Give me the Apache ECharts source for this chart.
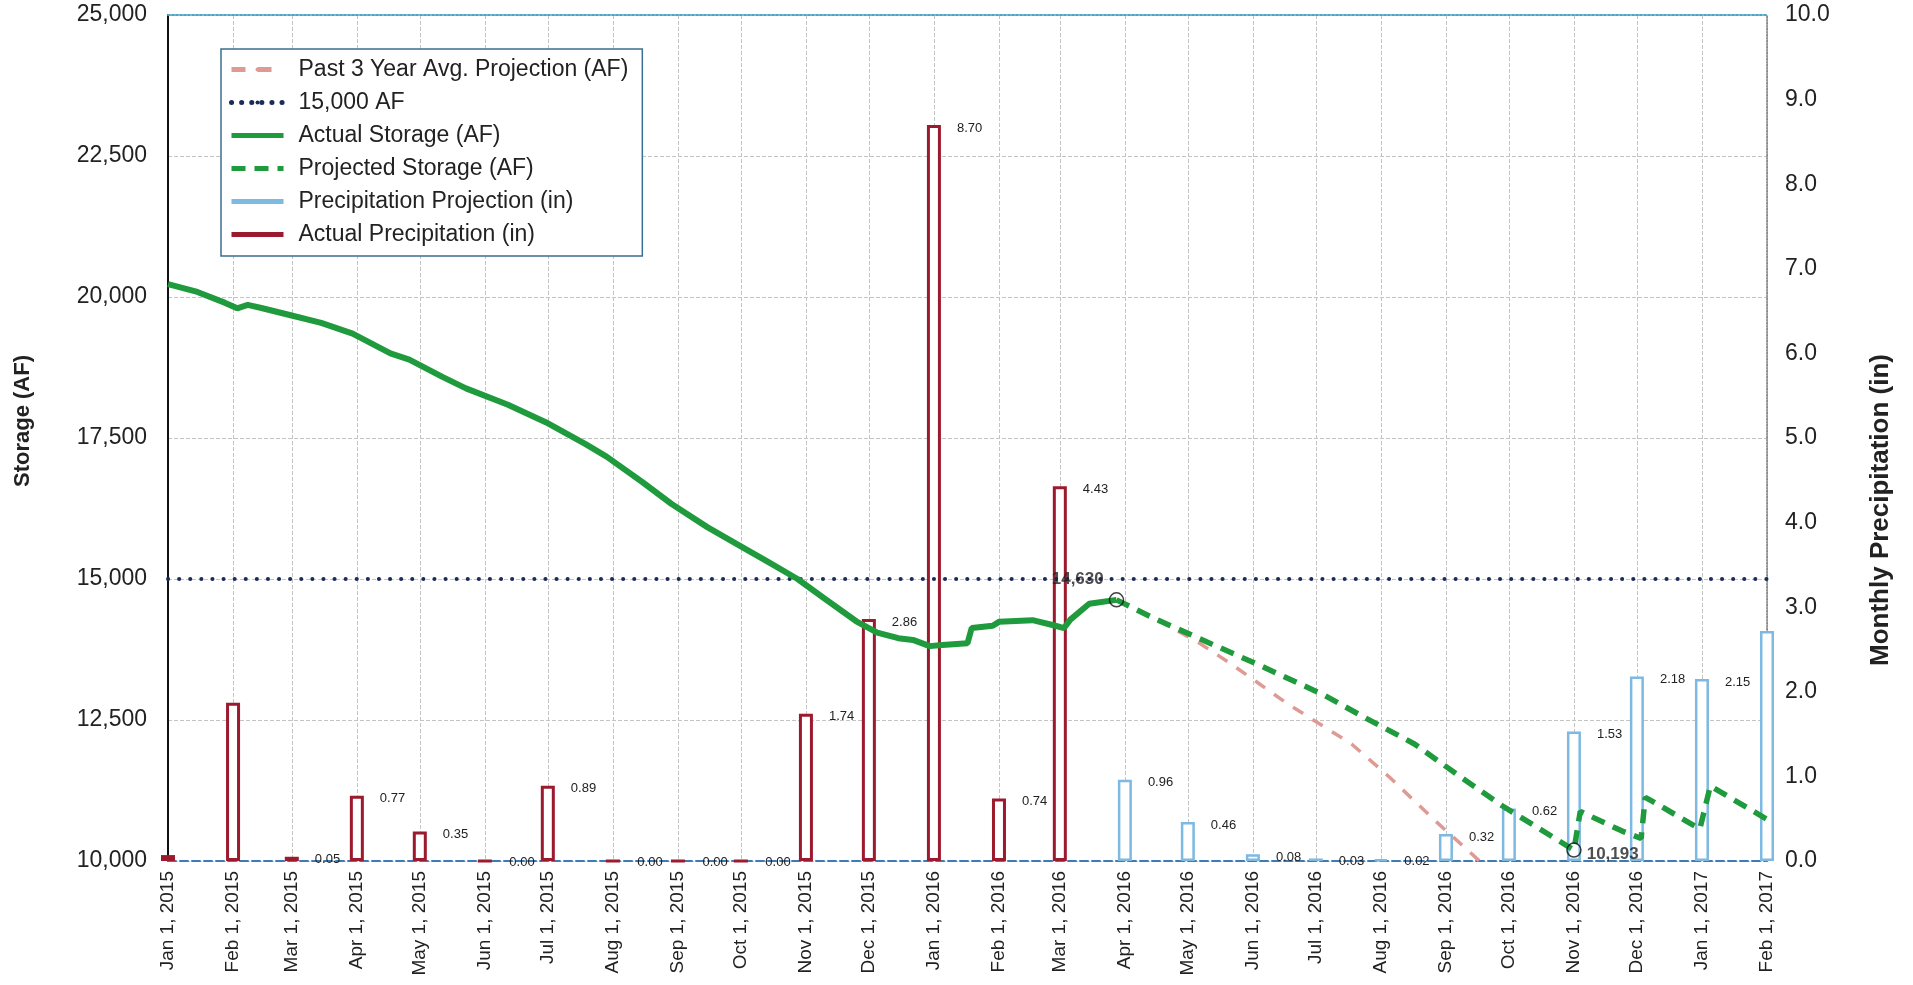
<!DOCTYPE html>
<html><head><meta charset="utf-8">
<script src="https://cdn.jsdelivr.net/npm/echarts@6/dist/echarts.min.js"></script>
<style>html,body{margin:0;padding:0;background:#fff}#c{width:1913px;height:985px}</style>
</head><body><div id="c"></div>
<script>
// ---------------- DATA ----------------
const axisStart = '2015-01-01';
const axisEnd = '2017-02-01';

const monthTicks = ['2015-01-01','2015-02-01','2015-03-01','2015-04-01','2015-05-01','2015-06-01','2015-07-01',
  '2015-08-01','2015-09-01','2015-10-01','2015-11-01','2015-12-01','2016-01-01','2016-02-01','2016-03-01',
  '2016-04-01','2016-05-01','2016-06-01','2016-07-01','2016-08-01','2016-09-01','2016-10-01','2016-11-01',
  '2016-12-01','2017-01-01','2017-02-01'];

const actualStorage = [
  ['2015-01-01', 20230], ['2015-01-15', 20090], ['2015-01-28', 19900], ['2015-02-03', 19800],
  ['2015-02-08', 19860], ['2015-02-15', 19800], ['2015-02-27', 19690], ['2015-03-15', 19540],
  ['2015-03-30', 19350], ['2015-04-17', 19000], ['2015-04-26', 18890], ['2015-05-12', 18580],
  ['2015-05-23', 18380], ['2015-06-12', 18090], ['2015-06-30', 17780], ['2015-07-19', 17390],
  ['2015-07-29', 17170], ['2015-08-15', 16720], ['2015-08-29', 16330], ['2015-09-15', 15920],
  ['2015-10-01', 15580], ['2015-10-15', 15280], ['2015-10-28', 15000], ['2015-11-10', 14650],
  ['2015-11-25', 14250], ['2015-12-05', 14050], ['2015-12-15', 13950], ['2015-12-22', 13920],
  ['2015-12-30', 13810], ['2016-01-05', 13830], ['2016-01-17', 13860], ['2016-01-19', 14130],
  ['2016-01-29', 14170], ['2016-02-01', 14240], ['2016-02-17', 14270], ['2016-02-27', 14180],
  ['2016-03-03', 14130], ['2016-03-06', 14280], ['2016-03-15', 14560], ['2016-03-28', 14630]
];

const projectedStorage = [
  ['2016-03-28', 14630], ['2016-04-15', 14300], ['2016-05-05', 13970], ['2016-06-06', 13440],
  ['2016-07-05', 12940], ['2016-07-24', 12550], ['2016-08-17', 12075], ['2016-09-08', 11490],
  ['2016-09-28', 10975], ['2016-11-01', 10193], ['2016-11-04', 10880], ['2016-11-24', 10530],
  ['2016-12-03', 10400], ['2016-12-05', 11130], ['2016-12-31', 10570], ['2017-01-05', 11330],
  ['2017-02-01', 10740]
];

const past3YearProjection = [
  ['2016-03-28', 14630], ['2016-04-15', 14300], ['2016-05-05', 13900], ['2016-05-21', 13510],
  ['2016-06-03', 13170], ['2016-06-17', 12800], ['2016-07-18', 12075], ['2016-08-05', 11490],
  ['2016-08-27', 10710], ['2016-09-17', 10000]
];

const thresholdLine = [[axisStart, 15000], [axisEnd, 15000]];

const actualPrecipDates = ['2015-01-01','2015-02-01','2015-03-01','2015-04-01','2015-05-01','2015-06-01',
  '2015-07-01','2015-08-01','2015-09-01','2015-10-01','2015-11-01','2015-12-01','2016-01-01','2016-02-01','2016-03-01'];
const actualPrecipValues = [0.07, 1.87, 0.05, 0.77, 0.35, 0.00, 0.89, 0.00, 0.00, 0.00, 1.74, 2.86, 8.70, 0.74, 4.43];
const actualPrecipLabeled = [false, false, true, true, true, true, true, true, true, true, true, true, true, true, true];

const projPrecipDates = ['2016-04-01','2016-05-01','2016-06-01','2016-07-01','2016-08-01','2016-09-01',
  '2016-10-01','2016-11-01','2016-12-01','2017-01-01','2017-02-01'];
const projPrecipValues = [0.96, 0.46, 0.08, 0.03, 0.02, 0.32, 0.62, 1.53, 2.18, 2.15, 2.72];
const projPrecipLabeled = [true, true, true, true, true, true, true, true, true, true, false];

const peakPoint = [['2016-03-28', 14630]];
const minPoint = [['2016-11-01', 10193]];

// ---------------- STYLE ----------------
const GREEN = '#1f9a3d', PINK = '#e09a94', NAVY = '#1b2c5a', RED = '#9c1a2e', LBLUE = '#7db9e2';
const FONT = 'Arial, "Liberation Sans", sans-serif';

const t = d => echarts.number.parseDate(d).getTime();
const pts = arr => arr.map(p => [t(p[0]), p[1]]);
function bars(dates, values, labeled) {
  return dates.map((d, i) => ({ value: [t(d), values[i]], label: { show: labeled[i] } }));
}
const tickValues = monthTicks.map(t);

const barLabel = {
  show: true, position: ['100%', 0], offset: [16, 3], align: 'left', verticalAlign: 'middle',
  fontSize: 13, color: '#222', fontFamily: FONT,
  formatter: p => p.value[1].toFixed(2)
};

const chart = echarts.init(document.getElementById('c'), null, { renderer: 'canvas' });
chart.setOption({
  animation: false,
  backgroundColor: '#fff',
  grid: { left: 168, right: 146, top: 15, bottom: 124, containLabel: false, outerBoundsMode: 'none' },
  legend: {
    orient: 'vertical', left: 221, top: 49,
    backgroundColor: '#fff', borderColor: '#3d6f8e', borderWidth: 1.5, borderRadius: 0,
    padding: [9, 14, 10, 8], itemGap: 10, itemWidth: 52, itemHeight: 5,
    textStyle: { fontSize: 23, color: '#222', fontFamily: FONT, padding: [0, 0, 0, 10] },
    data: [
      { name: 'Past 3 Year Avg. Projection (AF)', lineStyle: { width: 5, type: [14, 12] } },
      { name: '15,000 AF', lineStyle: { width: 5, type: [0.1, 10], cap: 'round' } },
      { name: 'Actual Storage (AF)', lineStyle: { width: 5 } },
      { name: 'Projected Storage (AF)', lineStyle: { width: 5, type: [14, 9] } },
      { name: 'Precipitation Projection (in)', icon: 'rect', itemStyle: { color: LBLUE, borderWidth: 0 } },
      { name: 'Actual Precipitation (in)', icon: 'rect', itemStyle: { color: RED, borderWidth: 0 } }
    ]
  },
  xAxis: [{
    type: 'value', min: t(axisStart), max: t(axisEnd),
    axisLine: { show: true, onZero: false, lineStyle: { color: '#3d7ab8', width: 2, type: 'dashed' } },
    axisTick: { show: false, customValues: tickValues },
    splitLine: { show: true, lineStyle: { color: '#c4c4c4', type: 'dashed', width: 1 } },
    axisLabel: {
      rotate: 90, margin: 10, fontSize: 19, color: '#222', fontFamily: FONT,
      customValues: tickValues,
      formatter: v => echarts.time.format(v, '{MMM} {d}, {yyyy}', false)
    }
  }, {
    type: 'value', min: t(axisStart), max: t(axisEnd), position: 'top',
    axisLine: { show: true, onZero: false, lineStyle: { color: '#4aa5c8', width: 2, type: 'dotted' } },
    axisTick: { show: false }, axisLabel: { show: false }, splitLine: { show: false }
  }],
  yAxis: [{
    type: 'value', min: 10000, max: 25000, interval: 2500, position: 'left',
    name: 'Storage (AF)', nameLocation: 'middle', nameRotate: 90, nameGap: 134,
    nameTextStyle: { fontSize: 22, fontWeight: 'bold', color: '#222', fontFamily: FONT, padding: [0, 0, 0, 34] },
    axisLine: { show: true, onZero: false, lineStyle: { color: '#111', width: 2 } },
    axisTick: { show: false },
    axisLabel: { fontSize: 23, color: '#222', fontFamily: FONT, margin: 21 },
    splitLine: { show: true, lineStyle: { color: '#c4c4c4', type: 'dashed', width: 1 } }
  }, {
    type: 'value', min: 0, max: 10, interval: 1, position: 'right',
    name: 'Monthly Precipitation (in)', nameLocation: 'middle', nameRotate: 90, nameGap: 101,
    nameTextStyle: { fontSize: 26, fontWeight: 'bold', color: '#222', fontFamily: FONT, padding: [0, 144, 0, 0] },
    axisLine: { show: true, onZero: false, lineStyle: { color: '#777', width: 1.5, type: 'dotted' } },
    axisTick: { show: false },
    axisLabel: { fontSize: 23, color: '#222', fontFamily: FONT, margin: 18, formatter: v => v.toFixed(1) },
    splitLine: { show: false }
  }],
  series: [
    {
      name: 'Precipitation Projection (in)', type: 'bar', yAxisIndex: 1, barWidth: 14, barGap: '-100%', z: 2,
      itemStyle: { color: '#fff', borderColor: LBLUE, borderWidth: 2.5 },
      label: barLabel,
      data: bars(projPrecipDates, projPrecipValues, projPrecipLabeled)
    },
    {
      name: 'Actual Precipitation (in)', type: 'bar', yAxisIndex: 1, barWidth: 14, barGap: '-100%', z: 2,
      itemStyle: { color: '#fff', borderColor: RED, borderWidth: 3 },
      label: barLabel,
      data: bars(actualPrecipDates, actualPrecipValues, actualPrecipLabeled)
    },
    {
      name: 'Past 3 Year Avg. Projection (AF)', type: 'line', yAxisIndex: 0, symbol: 'none', z: 4,
      lineStyle: { color: PINK, width: 3.5, type: [12, 11] }, itemStyle: { color: PINK },
      data: pts(past3YearProjection)
    },
    {
      name: '15,000 AF', type: 'line', yAxisIndex: 0, symbol: 'none', z: 5,
      lineStyle: { color: NAVY, width: 4, type: [0.1, 11], cap: 'round' }, itemStyle: { color: NAVY },
      data: pts(thresholdLine)
    },
    {
      name: 'Actual Storage (AF)', type: 'line', yAxisIndex: 0, symbol: 'none', z: 6,
      lineStyle: { color: GREEN, width: 6 }, itemStyle: { color: GREEN },
      data: pts(actualStorage)
    },
    {
      name: 'Projected Storage (AF)', type: 'line', yAxisIndex: 0, symbol: 'none', z: 6,
      lineStyle: { color: GREEN, width: 5.5, type: [14, 9] }, itemStyle: { color: GREEN },
      data: pts(projectedStorage)
    },
    {
      name: 'peak', type: 'scatter', yAxisIndex: 0, symbol: 'circle', symbolSize: 14, z: 8,
      itemStyle: { color: 'rgba(0,0,0,0)', borderColor: '#111', borderWidth: 1.5 },
      label: { show: true, position: 'left', distance: 5, offset: [0, -21], fontSize: 17, fontWeight: 'bold', color: '#222', fontFamily: FONT,
        formatter: p => echarts.format.addCommas(p.value[1]) },
      data: pts(peakPoint)
    },
    {
      name: 'min', type: 'scatter', yAxisIndex: 0, symbol: 'circle', symbolSize: 14, z: 8,
      itemStyle: { color: 'rgba(0,0,0,0)', borderColor: '#111', borderWidth: 1.5 },
      label: { show: true, position: 'right', distance: 5, offset: [0, 4], fontSize: 17, fontWeight: 'bold', color: '#222', fontFamily: FONT,
        formatter: p => echarts.format.addCommas(p.value[1]) },
      data: pts(minPoint)
    }
  ]
});
</script></body></html>
